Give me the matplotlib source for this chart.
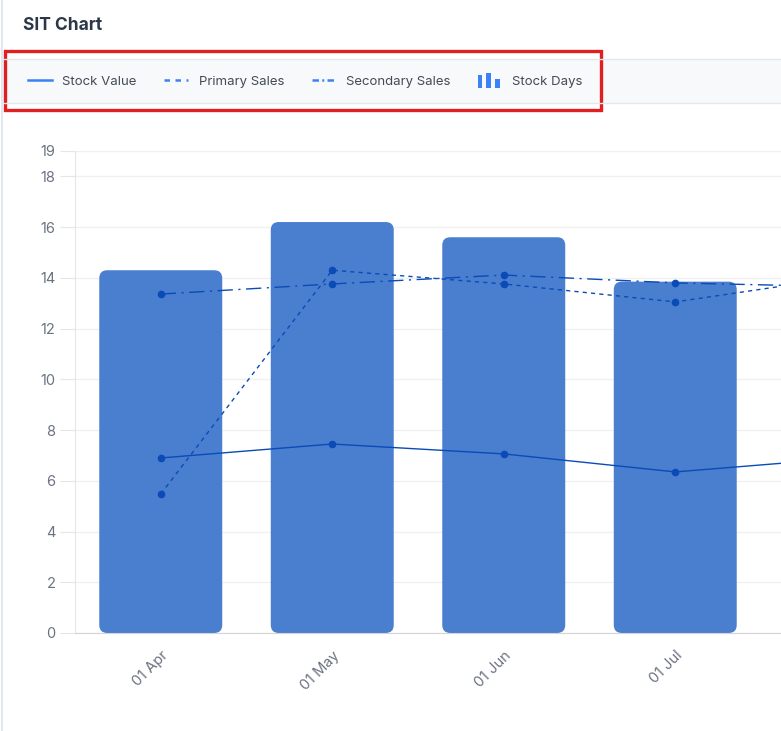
import matplotlib
matplotlib.use('Agg')
import matplotlib.pyplot as plt
from matplotlib.lines import Line2D
from matplotlib.patches import FancyBboxPatch, Rectangle
from matplotlib.legend_handler import HandlerBase
import numpy as np

months = ['01 Apr', '01 May', '01 Jun', '01 Jul', '01 Aug']
stock_days = [14.3, 16.2, 15.6, 13.85, 14.0]
stock_value = [6.9, 7.45, 7.06, 6.35, 6.9]
primary_sales = [5.48, 14.3, 13.76, 13.05, 14.05]
secondary_sales = [13.36, 13.76, 14.11, 13.8, 13.65]
y_ticks = [0, 2, 4, 6, 8, 10, 12, 14, 16, 18, 19]

BAR = '#4a7fd0'
LINE = '#0a4bb8'
ICON = '#3b82f6'
GRAY = '#6b7280'

plt.rcParams['font.family'] = ['Inter', 'DejaVu Sans']


class BarIconHandler(HandlerBase):
    def create_artists(self, legend, orig_handle, xdescent, ydescent,
                       width, height, fontsize, trans):
        hs = [9.5, 11.0, 6.5]
        xs = [0.0, 6.0, 12.5]
        base = height / 2 - 5.5 - ydescent
        out = []
        for x, h in zip(xs, hs):
            r = Rectangle((x - xdescent, base), 3.2, h, facecolor=ICON,
                          edgecolor='none', transform=trans)
            out.append(r)
        return out


fig = plt.figure(figsize=(7.81, 7.31), dpi=100)
W, H = 781, 731

# card decorations
fig.add_artist(Line2D([2 / W, 2 / W], [0, 1], color='#dde3ee', lw=1.2))
fig.text(23 / W, 1 - 25 / H, 'SIT Chart', fontsize=12.5, fontweight='bold',
         color='#2c3748', va='center', ha='left')
fig.add_artist(Rectangle((3 / W, 1 - 103 / H), 1, 44 / H, facecolor='#f8f9fb',
                         edgecolor='none', transform=fig.transFigure))
fig.add_artist(Line2D([3 / W, 1], [1 - 59 / H] * 2, color='#e3e7ee', lw=1))
fig.add_artist(Line2D([3 / W, 1], [1 - 103 / H] * 2, color='#e3e7ee', lw=1))
fig.add_artist(Rectangle((5 / W, 1 - 110 / H), 596 / W, 59 / H, facecolor='none',
                         edgecolor='#e02020', lw=2.4, transform=fig.transFigure))

ax = fig.add_axes([75 / W, (H - 633) / H, 857.5 / W, 482 / H])
x = np.arange(len(months))

bars = ax.bar(x, stock_days, width=0.717, color=BAR, zorder=2)
for b in bars:
    rp = FancyBboxPatch((b.get_x(), b.get_y()), b.get_width(), b.get_height(),
                        boxstyle='round,pad=0,rounding_size=0.047',
                        mutation_aspect=6.7, facecolor=BAR, edgecolor='none',
                        zorder=2)
    b.remove()
    ax.add_patch(rp)

ax.plot(x, stock_value, color=LINE, lw=1, marker='o', ms=4.5, zorder=4)
ax.plot(x, primary_sales, color=LINE, lw=1, ls=(0, (3, 3)), marker='o', ms=4.5, zorder=4)
ax.plot(x, secondary_sales, color=LINE, lw=1, ls=(0, (11, 4, 1.5, 4)), marker='o', ms=4.5, zorder=4)

ax.set_xlim(-0.5, len(months) - 0.5)
ax.set_ylim(0, 19)
ax.set_yticks(y_ticks)
ax.set_xticks(x)
ax.set_xticklabels(months, rotation=45, ha='right', va='top', rotation_mode='anchor')
# last month sits past the visible edge, its label is not shown in the card
ax.get_xticklabels()[-1].set_visible(False)
ax.tick_params(axis='y', colors='#e6e6e6', labelcolor=GRAY, labelsize=10.5, length=11, pad=3)
ax.tick_params(axis='x', length=0, labelcolor=GRAY, labelsize=10.5, pad=11)
ax.grid(axis='y', color='#f0f0f0', lw=1, zorder=0)
ax.set_axisbelow(True)
for s in ['top', 'right']:
    ax.spines[s].set_visible(False)
ax.spines['left'].set_color('#e6e6e6')
ax.spines['bottom'].set_color('#d4d4d4')

handles = [
    Line2D([], [], color=ICON, lw=1.8),
    Line2D([], [], color=ICON, lw=1.8, ls=(0, (2.2, 2.2))),
    Line2D([], [], color=ICON, lw=1.8, ls=(0, (2.6, 1.3, 0.8, 1.3))),
    'bars',
]
labels = ['Stock Value', 'Primary Sales', 'Secondary Sales', 'Stock Days']
fig.legend(handles, labels, loc='center left', ncol=4, frameon=False,
           bbox_to_anchor=(16 / W, 1 - 82 / H), fontsize=9.5, labelcolor='#444b55',
           handlelength=1.8, handletextpad=0.8, columnspacing=2.1,
           handler_map={str: BarIconHandler()})

fig.savefig('out.png', dpi=100)
